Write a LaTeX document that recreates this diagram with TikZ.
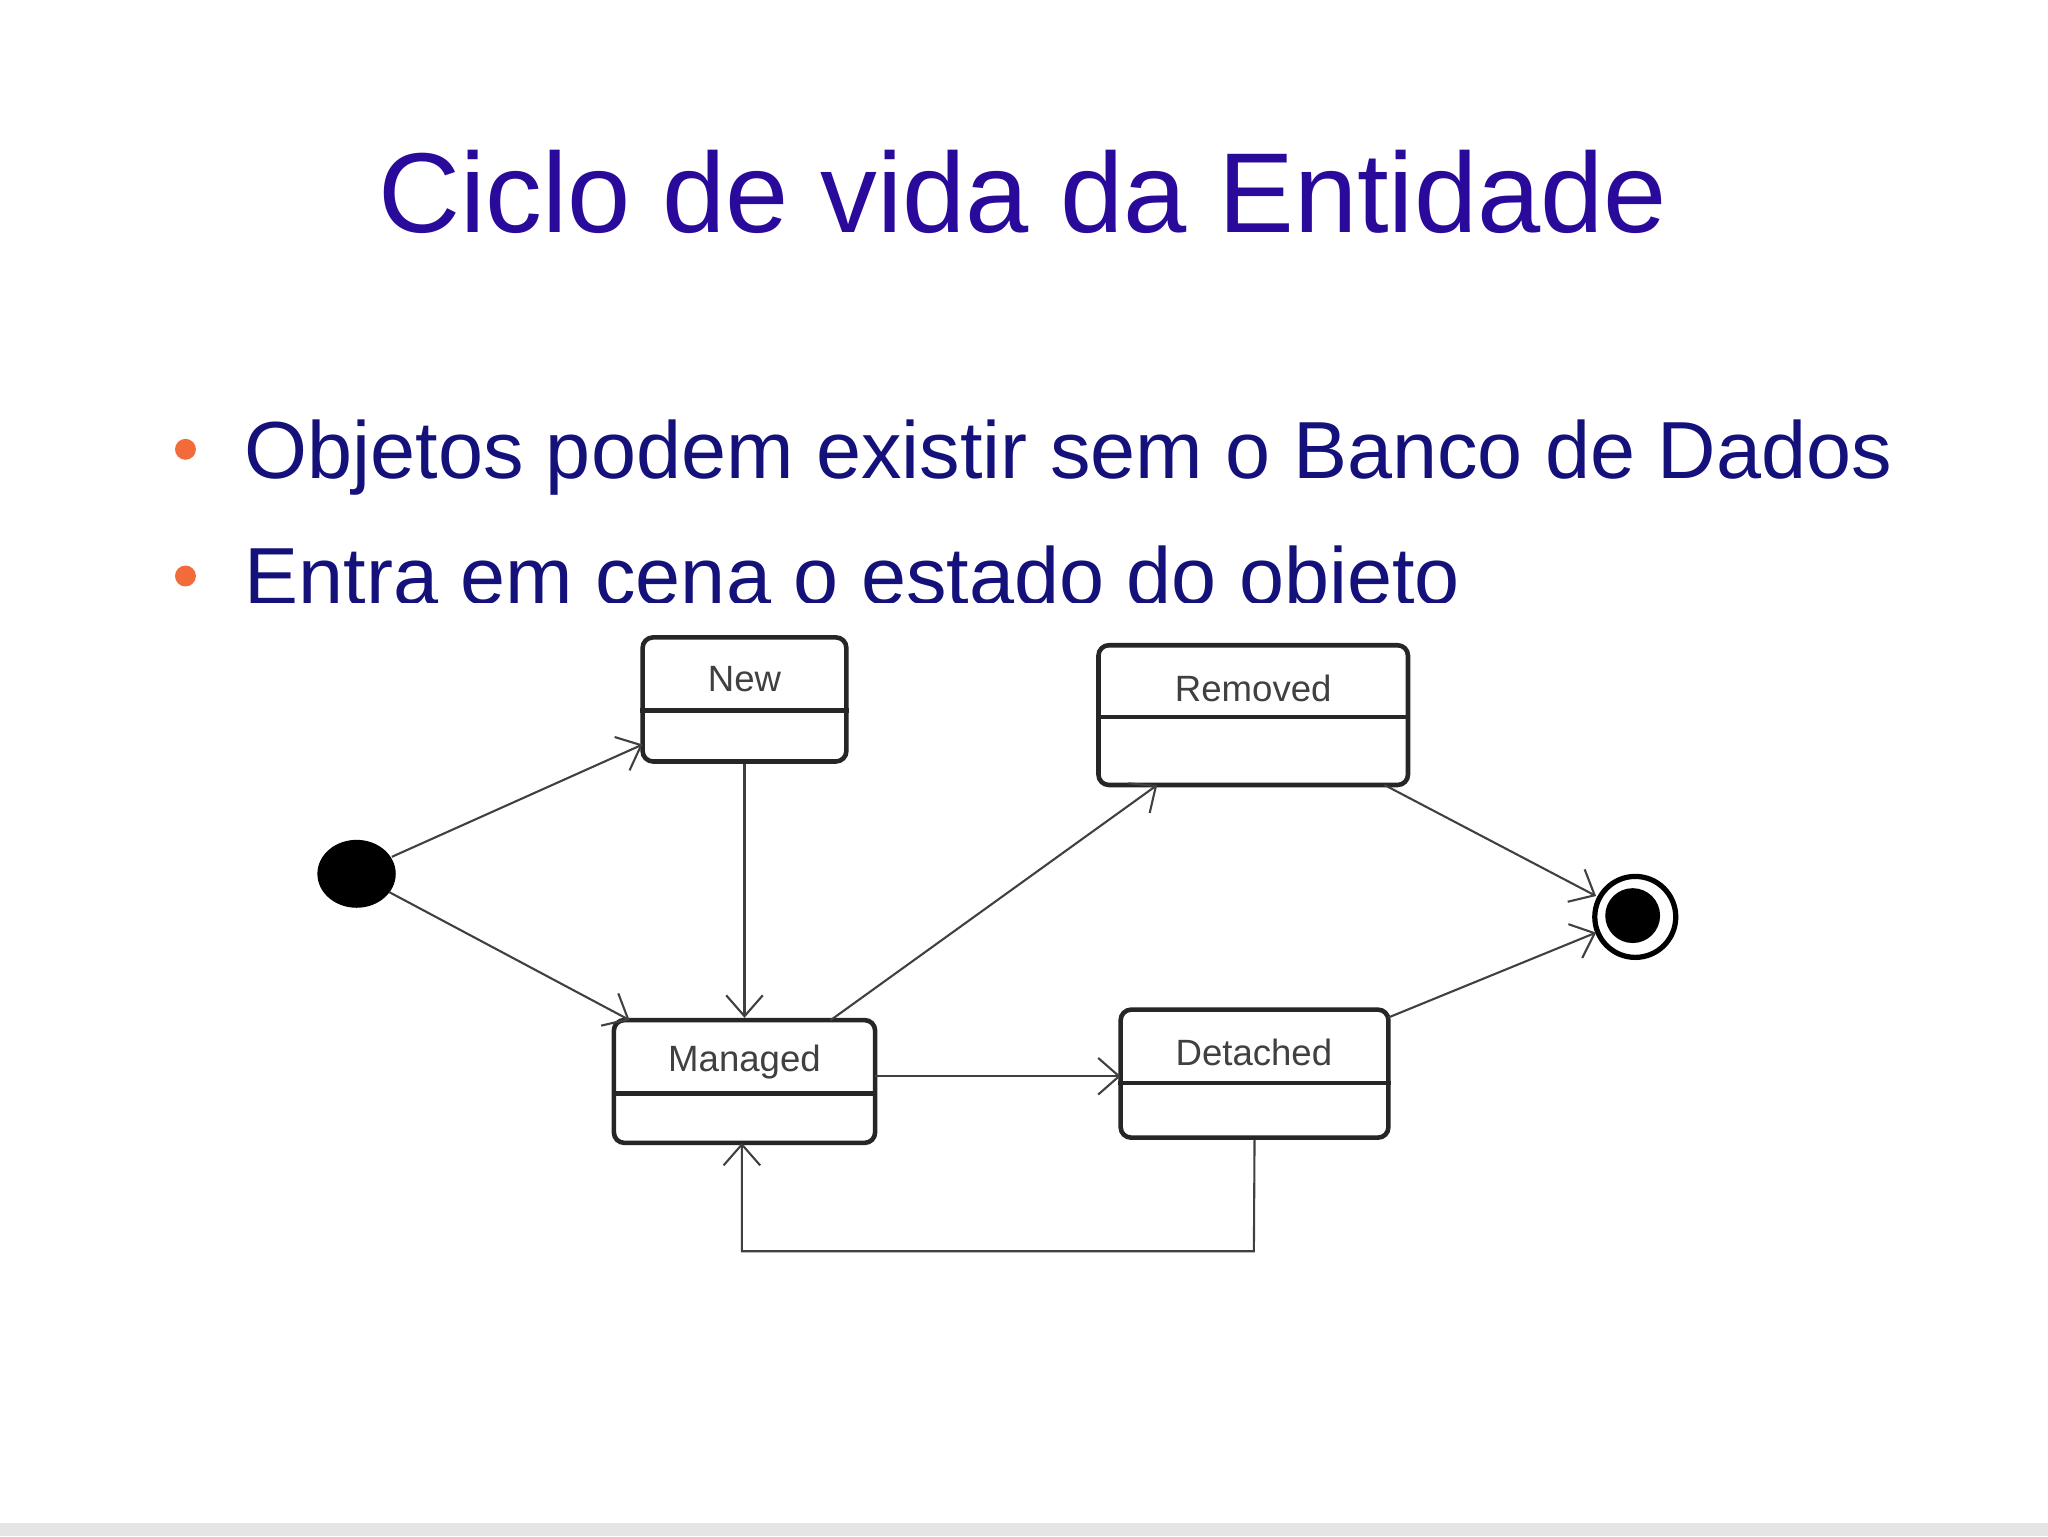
\documentclass[tikz,border=0pt]{standalone}
\usepackage{fontspec}
\setmainfont{Liberation Sans}
\usetikzlibrary{arrows.meta}
\definecolor{titlec}{HTML}{2A0A9A}
\definecolor{textc}{HTML}{14127A}
\definecolor{bul}{HTML}{F26B3A}
\begin{document}
\begin{tikzpicture}[x=1pt,y=-1pt,
  st/.style={draw=black!85,line width=3.5pt,rounded corners=8pt,inner sep=0pt},
  lbl/.style={font=\fontsize{28}{30}\selectfont,text=black!75},
  edge/.style={draw=black!75,line width=1.6pt,-{Straight Barb[length=16pt,width=28pt,line width=1.6pt]}},
  plain/.style={draw=black!75,line width=1.6pt}]
\useasboundingbox (0,0) rectangle (1568,1176);
\fill[white] (0,0) rectangle (1568,1176);
\fill[black!10] (0,1166) rectangle (1568,1176);
\node[anchor=base,text=titlec,font=\fontsize{87}{90}\selectfont] (title) at (783,178) {Ciclo de vida da Entidade};
\node[anchor=base west,inner sep=0pt,text=textc,font=\fontsize{62}{66}\selectfont] (b1) at (187,366) {Objetos podem existir sem o Banco de Dados};
\node[anchor=base west,inner sep=0pt,text=textc,font=\fontsize{62}{66}\selectfont] (b2) at (187,463) {Entra em cena o estado do objeto};
\fill[bul] (142,344) circle (8) (142,441) circle (8);
\fill[white] (120,462) rectangle (1500,1150);
% states
\node[st,minimum width=156pt,minimum height=95pt] (new) at (570,535.5) {};
\draw[st] (new.west|-0,544) -- (new.east|-0,544);
\node[lbl] (newl) at (570,520) {New};
\node[st,minimum width=237pt,minimum height=107pt] (rem) at (959.5,547.5) {};
\draw[st] (rem.west|-0,549) -- (rem.east|-0,549);
\node[lbl] (reml) at (959.5,527) {Removed};
\node[st,minimum width=200pt,minimum height=94pt] (man) at (570,828) {};
\draw[st] (man.west|-0,837) -- (man.east|-0,837);
\node[lbl] (manl) at (570,813) {Managed};
\node[st,minimum width=205pt,minimum height=98pt] (det) at (960.5,822) {};
\draw[st] (det.west|-0,829) -- (det.east|-0,829);
\node[lbl] (detl) at (960,806) {Detached};
\fill[black] (273,669) ellipse (30 and 26);
\coordinate (init) at (273,669);
\node[draw=black,line width=4pt,circle,minimum size=62pt,inner sep=0pt] (fin) at (1252,702) {};
\fill[black] (1250,701) circle (21);
% edges
\coordinate (i1) at (300,656); \coordinate (i2) at (298,683);
\coordinate (n1) at (492,570);
\coordinate (m1) at (482,781);
\coordinate (mt) at (636,781);
\coordinate (rt) at (886,601);
\coordinate (rb) at (1060,601);
\coordinate (f1) at (1222,686);
\coordinate (f2) at (1222,714);
\coordinate (me) at (670,824);
\coordinate (de) at (858,824);
\coordinate (dt) at (1063,779);
\coordinate (db) at (960,958);
\coordinate (mb0) at (568,958);
\coordinate (mb) at (568,875);
\draw[edge] (i1) -- (n1);
\draw[edge] (i2) -- (m1);
\draw[edge] (new.south) -- (man.north);
\draw[edge] (mt) -- (rt);
\draw[edge] (rb) -- (f1);
\draw[edge] (me) -- (de);
\draw[edge] (dt) -- (f2);
\draw[edge] (det.south) -- (db) -- (mb0) -- (mb);
\end{tikzpicture}
\end{document}
